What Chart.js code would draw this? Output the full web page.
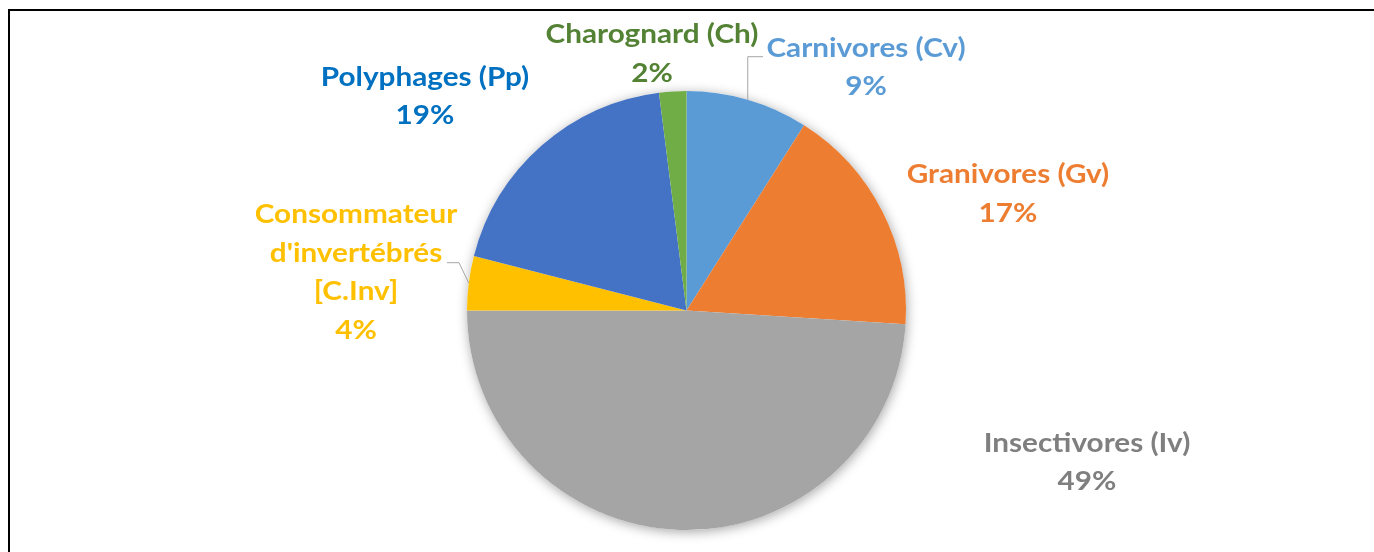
<!DOCTYPE html>
<html>
<head>
<meta charset="utf-8">
<script src="https://cdn.jsdelivr.net/npm/chart.js@4.4.1/dist/chart.umd.min.js"></script>
<style>
  html, body { margin: 0; padding: 0; background: #fff; }
</style>
</head>
<body>
<canvas id="pieChart" width="1374" height="552"></canvas>
<script>
// données du graphique (sens horaire depuis midi)
var categories = [["Carnivores (Cv)"], ["Granivores (Gv)"], ["Insectivores (Iv)"], ["Consommateur", "d'invertébrés", "[C.Inv]"], ["Polyphages (Pp)"], ["Charognard (Ch)"]];
var percentages = [9, 17, 49, 4, 19, 2];
var sliceColors = ["#5B9BD5", "#ED7D31", "#A5A5A5", "#FFC000", "#4472C4", "#70AD47"];
var labelColors = ["#5B9BD5", "#ED7D31", "#7F7F7F", "#FFC000", "#0070C0", "#548235"];

// position des étiquettes : centre x, ligne de base de la 1re ligne
var labelAnchors = [[866, 56.7], [1008, 183.3], [1087, 451.7], [356, 223.3], [425, 85.7], [652, 43.3]];

var labelPlugin = {
  id: 'pieLabels',
  beforeDraw: function (chart) {
    var ctx = chart.ctx;
    ctx.save();
    ctx.strokeStyle = "#000";
    ctx.lineWidth = 2;
    ctx.beginPath();
    ctx.moveTo(9, chart.height);
    ctx.lineTo(9, 10);
    ctx.lineTo(chart.width, 10);
    ctx.stroke();
    ctx.restore();
  },
  beforeDatasetsDraw: function (chart) {
    // ombre douce autour du camembert
    var arc = chart.getDatasetMeta(0).data[0];
    var ctx = chart.ctx;
    ctx.save();
    ctx.shadowColor = "rgba(0,0,0,0.35)";
    ctx.shadowBlur = 12;
    ctx.shadowOffsetX = 1;
    ctx.shadowOffsetY = 2;
    ctx.fillStyle = "#fff";
    ctx.beginPath();
    ctx.arc(arc.x, arc.y, arc.outerRadius, 0, Math.PI * 2);
    ctx.fill();
    ctx.restore();
  },
  afterDatasetsDraw: function (chart, args, opts) {
    var ctx = chart.ctx;
    var meta = chart.getDatasetMeta(0);
    ctx.save();

    // lignes de rappel
    ctx.strokeStyle = "#A6A6A6";
    ctx.lineWidth = 1;
    opts.leaders.forEach(function (ld) {
      var arc = meta.data[ld.index];
      var mid = (arc.startAngle + arc.endAngle) / 2;
      var px = arc.x + Math.cos(mid) * arc.outerRadius;
      var py = arc.y + Math.sin(mid) * arc.outerRadius;
      ctx.beginPath();
      ctx.moveTo(ld.from[0], ld.from[1]);
      if (ld.vertical) {
        ctx.lineTo(px, ld.from[1]);
      } else {
        ctx.lineTo(ld.elbow[0], ld.elbow[1]);
      }
      ctx.lineTo(px, py);
      ctx.stroke();
    });

    // étiquettes
    ctx.font = opts.font;
    ctx.textAlign = "center";
    ctx.textBaseline = "alphabetic";
    categories.forEach(function (lines, i) {
      var a = labelAnchors[i];
      var all = lines.concat([percentages[i] + "%"]);
      ctx.fillStyle = labelColors[i];
      all.forEach(function (t, k) {
        ctx.save();
        ctx.translate(a[0], a[1] + k * opts.lineHeight);
        ctx.scale(opts.scaleX, 1);
        ctx.fillText(t, 0, 0);
        ctx.restore();
      });
    });
    ctx.restore();
  }
};

var ctx = document.getElementById("pieChart");

var myPieChart = new Chart(ctx, {
  type: 'pie',
  data: {
    labels: categories,
    datasets: [{
      data: percentages,
      backgroundColor: sliceColors,
      borderWidth: 0
    }]
  },
  options: {
    responsive: false,
    animation: false,
    layout: {
      padding: { left: 467, right: 468, top: 91, bottom: 22 }
    },
    plugins: {
      legend: { display: false },
      tooltip: { enabled: false },
      pieLabels: {
        font: 'bold 27px Lato',
        scaleX: 1.1,
        lineHeight: 38.5,
        leaders: [
          { index: 0, from: [763, 56.7], vertical: true },
          { index: 3, from: [447, 262.7], elbow: [459, 262.7] }
        ]
      }
    }
  },
  plugins: [labelPlugin]
});
</script>
</body>
</html>
